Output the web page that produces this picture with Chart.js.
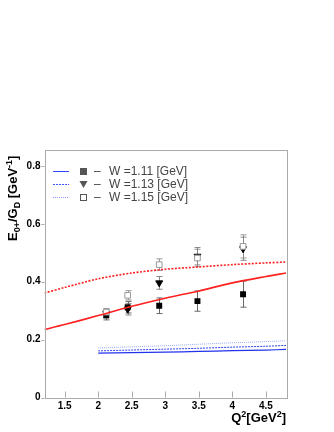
<!DOCTYPE html>
<html>
<head>
<meta charset="utf-8">
<script src="https://cdn.jsdelivr.net/npm/chart.js@4.4.1/dist/chart.umd.min.js"></script>
<style>
  html, body { margin: 0; padding: 0; background: #fff; }
  #wrap { width: 334px; height: 432px; }
</style>
</head>
<body>
<div id="wrap"><canvas id="chart" width="334" height="432"></canvas></div>
<script>
// data points (Q2 in GeV^2, E0+/GD)
const q2 = [2.12, 2.44, 2.91, 3.48, 4.16];
const w111 = [0.284, 0.312, 0.317, 0.333, 0.357];
const w111Err = [0.016, 0.02, 0.027, 0.035, 0.045];
const w113 = [0.29, 0.305, 0.396, 0.488, 0.514];
const w113Err = [0.015, 0.02, 0.022, 0.03, 0.04];
const w115 = [0.295, 0.353, 0.459, 0.482, 0.522];
const w115Err = [0.012, 0.016, 0.02, 0.03, 0.04];

// model curves
const redQ2 = [1.2, 1.5, 2.0, 2.5, 3.0, 3.5, 4.0, 4.5, 4.8];
const redSolid = [0.235, 0.252, 0.283, 0.315, 0.343, 0.368, 0.396, 0.418, 0.43];
const redDashed = [0.361, 0.38, 0.41, 0.43, 0.443, 0.451, 0.459, 0.465, 0.468];

const blueQ2 = [2.0, 2.5, 3.0, 3.5, 4.0, 4.5, 4.8];
const blue111 = [0.153, 0.155, 0.157, 0.159, 0.162, 0.164, 0.166];
const blue113 = [0.161, 0.164, 0.167, 0.17, 0.174, 0.177, 0.18];
const blue115 = [0.171, 0.175, 0.179, 0.184, 0.189, 0.193, 0.196];

const xTicks = [1.5, 2, 2.5, 3, 3.5, 4, 4.5];
const yTicks = [0, 0.2, 0.4, 0.6, 0.8];
const legendLabels = ["W =1.11 [GeV]", "W =1.13 [GeV]", "W =1.15 [GeV]"];

function pts(xs, ys) {
    return xs.map((x, i) => ({ x: x, y: ys[i] }));
}

function line(label, xs, ys, color, width, dash) {
    return {
        type: "line",
        label: label,
        data: pts(xs, ys),
        borderColor: color,
        borderWidth: width,
        borderDash: dash,
        pointRadius: 0,
        fill: false,
        tension: 0.3
    };
}

// error bars, frame, ticks, legend and axis titles
const extras = {
    id: "extras",
    beforeDatasetsDraw(chart) {
        const ctx = chart.ctx;
        const xs = chart.scales.x, ys = chart.scales.y;
        const sets = [[w115, w115Err, "#999"], [w113, w113Err, "#888"], [w111, w111Err, "#666"]];
        ctx.save();
        ctx.lineWidth = 1;
        sets.forEach(s => {
            ctx.strokeStyle = s[2];
            q2.forEach((q, i) => {
                const px = Math.round(xs.getPixelForValue(q)) + 0.5;
                const y1 = ys.getPixelForValue(s[0][i] - s[1][i]);
                const y2 = ys.getPixelForValue(s[0][i] + s[1][i]);
                ctx.beginPath();
                ctx.moveTo(px, y1); ctx.lineTo(px, y2);
                ctx.moveTo(px - 3, y1); ctx.lineTo(px + 3, y1);
                ctx.moveTo(px - 3, y2); ctx.lineTo(px + 3, y2);
                ctx.stroke();
            });
        });
        ctx.restore();
    },
    afterDraw(chart) {
        const ctx = chart.ctx;
        const a = chart.chartArea;
        const xs = chart.scales.x, ys = chart.scales.y;
        ctx.save();
        // frame
        ctx.strokeStyle = "#aaa";
        ctx.lineWidth = 1;
        ctx.strokeRect(Math.round(a.left) + 0.5, Math.round(a.top) + 0.5,
            Math.round(a.right - a.left), Math.round(a.bottom - a.top));
        // ticks
        ctx.beginPath();
        xTicks.forEach(v => {
            const px = Math.round(xs.getPixelForValue(v)) + 0.5;
            ctx.moveTo(px, a.bottom); ctx.lineTo(px, a.bottom - 6);
        });
        yTicks.forEach(v => {
            const py = Math.round(ys.getPixelForValue(v)) + 0.5;
            ctx.moveTo(a.left, py); ctx.lineTo(a.left - 3, py);
        });
        ctx.stroke();

        // legend
        const rowsY = [171, 184, 197];
        const styles = [["#3344ff", []], ["#4455ff", [2, 1]], ["#8899ff", [1, 1]]];
        rowsY.forEach((y, i) => {
            ctx.strokeStyle = styles[i][0];
            ctx.setLineDash(styles[i][1]);
            ctx.lineWidth = 1;
            ctx.beginPath();
            ctx.moveTo(53, y + 0.5); ctx.lineTo(69, y + 0.5);
            ctx.stroke();
            ctx.setLineDash([]);
            if (i === 0) {
                ctx.fillStyle = "#555";
                ctx.fillRect(80, y - 3, 7, 7);
            } else if (i === 1) {
                ctx.fillStyle = "#555";
                ctx.beginPath();
                ctx.moveTo(79.5, y - 3); ctx.lineTo(87.5, y - 3); ctx.lineTo(83.5, y + 4);
                ctx.closePath(); ctx.fill();
            } else {
                ctx.strokeStyle = "#555";
                ctx.strokeRect(80.5, y - 2.5, 6, 6);
            }
            ctx.fillStyle = "#444";
            ctx.font = "12px 'Liberation Sans', Arial, sans-serif";
            ctx.textBaseline = "middle";
            ctx.fillText("\u2013", 94, y + 1);
            ctx.fillText(legendLabels[i], 109, y + 1);
        });

        // x title: Q^2 [GeV^2]
        ctx.fillStyle = "#000";
        ctx.textBaseline = "alphabetic";
        const big = "bold 13px 'Liberation Sans', Arial, sans-serif";
        const small = "bold 9px 'Liberation Sans', Arial, sans-serif";
        const xParts = [["Q", big, 0], ["2", small, -5], ["[GeV", big, 0], ["2", small, -5], ["]", big, 0]];
        let w = 0;
        xParts.forEach(p => { ctx.font = p[1]; w += ctx.measureText(p[0]).width; });
        let x = a.right - w;
        xParts.forEach(p => {
            ctx.font = p[1];
            ctx.fillText(p[0], x, 422 + p[2]);
            x += ctx.measureText(p[0]).width;
        });

        // y title: E0+/GD [GeV^-1]
        ctx.translate(17, 241);
        ctx.rotate(-Math.PI / 2);
        const yParts = [["E", big, 0], ["0+", small, 3], ["/G", big, 0], ["D", small, 3],
            [" [GeV", big, 0], ["-1", small, -5], ["]", big, 0]];
        x = 0;
        yParts.forEach(p => {
            ctx.font = p[1];
            ctx.fillText(p[0], x, p[2]);
            x += ctx.measureText(p[0]).width;
        });
        ctx.restore();
    }
};

const ctx = document.getElementById("chart");

const chart = new Chart(ctx, {
    type: "scatter",
    data: {
        datasets: [
            line("blue115", blueQ2, blue115, "#99aaff", 1, [1, 1]),
            line("blue113", blueQ2, blue113, "#3344ee", 1, [2, 1]),
            line("blue111", blueQ2, blue111, "#2233ee", 1.2, []),
            line("redDashed", redQ2, redDashed, "#ff2020", 1.6, [2, 1.5]),
            line("redSolid", redQ2, redSolid, "#ff2020", 1.6, []),
            {
                label: "W=1.15",
                data: pts(q2, w115),
                pointStyle: "rect",
                pointRadius: 4,
                backgroundColor: "#fff",
                borderColor: "#999",
                borderWidth: 1
            },
            {
                label: "W=1.13",
                data: pts(q2, w113),
                pointStyle: "triangle",
                rotation: 180,
                pointRadius: 4,
                backgroundColor: "#000",
                borderColor: "#000",
                borderWidth: 1
            },
            {
                label: "W=1.11",
                data: pts(q2, w111),
                pointStyle: "rect",
                pointRadius: 4.2,
                backgroundColor: "#000",
                borderColor: "#000",
                borderWidth: 0
            }
        ]
    },
    options: {
        responsive: false,
        animation: false,
        layout: { padding: { top: 150, right: 48, left: 0, bottom: 0 } },
        plugins: {
            legend: { display: false },
            tooltip: { enabled: false }
        },
        scales: {
            x: {
                type: "linear",
                min: 1.2,
                max: 4.8,
                grid: { display: false, drawTicks: false },
                border: { display: false },
                afterFit(scale) { scale.height = 34.5; },
                afterBuildTicks(scale) { scale.ticks = xTicks.map(v => ({ value: v })); },
                ticks: {
                    padding: 3,
                    color: "#000",
                    font: { family: "'Liberation Sans', Arial, sans-serif", size: 10, weight: "bold" },
                    callback: v => String(v)
                }
            },
            y: {
                type: "linear",
                min: 0,
                max: 0.855,
                grid: { display: false, drawTicks: false },
                border: { display: false },
                afterFit(scale) { scale.width = 44.5; },
                afterBuildTicks(scale) { scale.ticks = yTicks.map(v => ({ value: v })); },
                ticks: {
                    padding: 4,
                    color: "#000",
                    font: { family: "'Liberation Sans', Arial, sans-serif", size: 10, weight: "bold" },
                    callback: v => v === 0 ? "0" : v.toFixed(1)
                }
            }
        }
    },
    plugins: [extras]
});
</script>
</body>
</html>
